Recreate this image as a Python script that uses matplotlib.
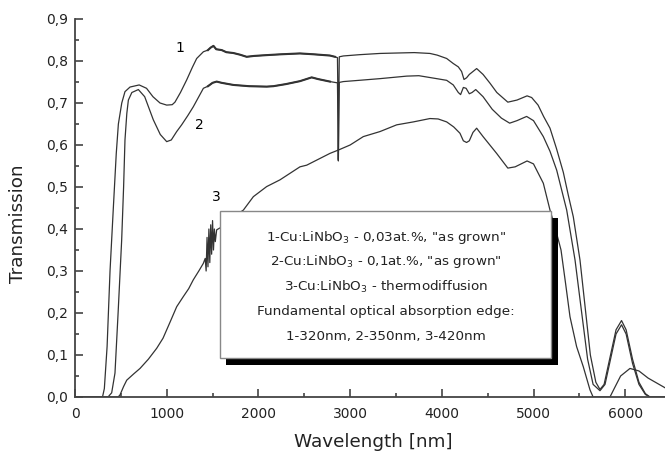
import numpy as np
import matplotlib
matplotlib.use('Agg')
import matplotlib.pyplot as plt
from matplotlib.patches import Rectangle
from matplotlib.ticker import MultipleLocator, FuncFormatter

# curve 1 : Cu:LiNbO3 0,03at.% as grown
wl1 = [0, 300, 320, 350, 382, 418, 450, 473, 510, 545, 600, 700, 780, 850, 927, 1000,
       1060, 1090, 1150, 1218, 1280, 1327, 1400, 1450, 1480, 1510, 1540, 1600, 1650,
       1727, 1800, 1872, 1950, 2090, 2250, 2453, 2600, 2780, 2835, 2862, 2868, 2872,
       2876, 2882, 2926, 3100, 3326, 3508, 3700, 3871, 3950, 4053, 4125, 4180, 4216,
       4242, 4270, 4300, 4380, 4450, 4526, 4600, 4720, 4820, 4930, 4980, 5050, 5110,
       5180, 5250, 5325, 5380, 5434, 5507, 5560, 5620, 5680, 5725, 5770, 5830, 5900,
       5960, 6010, 6080, 6150, 6220, 6270, 6434]
t1 = [0, 0, 0.02, 0.12, 0.30, 0.45, 0.58, 0.65, 0.70, 0.727, 0.738, 0.743, 0.735, 0.715,
      0.700, 0.695, 0.696, 0.702, 0.725, 0.755, 0.785, 0.806, 0.822, 0.826, 0.832, 0.836,
      0.828, 0.826, 0.821, 0.819, 0.815, 0.810, 0.812, 0.814, 0.816, 0.818, 0.816, 0.813,
      0.810, 0.808, 0.70, 0.565, 0.70, 0.81, 0.812, 0.815, 0.818, 0.819, 0.820, 0.818,
      0.814, 0.806, 0.794, 0.786, 0.775, 0.756, 0.760, 0.768, 0.782, 0.768, 0.747, 0.725,
      0.702, 0.707, 0.717, 0.713, 0.695, 0.668, 0.640, 0.592, 0.535, 0.48, 0.429, 0.326,
      0.22, 0.10, 0.035, 0.018, 0.03, 0.09, 0.16, 0.182, 0.16, 0.09, 0.035, 0.008, 0, 0]

# curve 2 : Cu:LiNbO3 0,1at.% as grown
wl2 = [0, 360, 400, 436, 470, 509, 530, 545, 565, 582, 620, 691, 760, 854, 930, 1000,
       1050, 1109, 1163, 1230, 1290, 1350, 1400, 1450, 1500, 1545, 1600, 1727, 1900,
       2090, 2163, 2300, 2453, 2581, 2650, 2780, 2862, 2868, 2872, 2876, 2882, 2926,
       3100, 3326, 3617, 3750, 3944, 4053, 4125, 4180, 4205, 4235, 4265, 4300, 4330,
       4370, 4450, 4550, 4650, 4740, 4820, 4925, 5000, 5107, 5180, 5253, 5362, 5453,
       5520, 5590, 5650, 5725, 5780, 5840, 5900, 5960, 6010, 6080, 6150, 6220, 6270, 6434]
t2 = [0, 0, 0.01, 0.057, 0.20, 0.374, 0.50, 0.612, 0.675, 0.707, 0.725, 0.732, 0.715,
      0.660, 0.625, 0.608, 0.612, 0.632, 0.648, 0.670, 0.691, 0.715, 0.735, 0.740, 0.748,
      0.751, 0.748, 0.743, 0.740, 0.739, 0.740, 0.745, 0.752, 0.761, 0.757, 0.751, 0.748,
      0.65, 0.562, 0.65, 0.749, 0.751, 0.754, 0.758, 0.764, 0.765, 0.758, 0.754, 0.743,
      0.725, 0.720, 0.737, 0.735, 0.722, 0.725, 0.732, 0.715, 0.685, 0.664, 0.652, 0.658,
      0.668, 0.658, 0.620, 0.585, 0.540, 0.445, 0.326, 0.21, 0.09, 0.03, 0.015, 0.03,
      0.09, 0.15, 0.172, 0.15, 0.08, 0.03, 0.006, 0, 0]

# curve 3 : Cu:LiNbO3 thermodiffusion
wl3 = [0, 470, 491, 530, 564, 640, 709, 800, 891, 960, 1036, 1109, 1181, 1240, 1290,
       1350, 1399, 1420, 1430, 1440, 1450, 1460, 1470, 1480, 1490, 1500, 1510, 1520,
       1530, 1545, 1600, 1700, 1836, 1945, 2090, 2235, 2453, 2527, 2780, 2872, 3000,
       3144, 3326, 3508, 3690, 3871, 3960, 4053, 4130, 4198, 4235, 4270, 4300, 4340,
       4380, 4450, 4598, 4720, 4800, 4930, 5000, 5107, 5180, 5240, 5300, 5350, 5398,
       5470, 5543, 5616, 5650, 5834, 5880, 5950, 6052, 6150, 6250, 6434]
t3 = [0, 0, 0.005, 0.025, 0.04, 0.055, 0.068, 0.09, 0.116, 0.14, 0.178, 0.215, 0.239,
      0.258, 0.279, 0.30, 0.318, 0.33, 0.30, 0.38, 0.31, 0.40, 0.32, 0.41, 0.34, 0.42,
      0.35, 0.40, 0.37, 0.398, 0.405, 0.425, 0.445, 0.477, 0.501, 0.517, 0.548, 0.552,
      0.580, 0.588, 0.600, 0.620, 0.632, 0.648, 0.655, 0.663, 0.662, 0.655, 0.643, 0.628,
      0.610, 0.606, 0.610, 0.630, 0.640, 0.620, 0.580, 0.545, 0.548, 0.562, 0.555, 0.509,
      0.445, 0.40, 0.35, 0.27, 0.191, 0.12, 0.072, 0.017, 0, 0, 0.02, 0.05, 0.068, 0.062,
      0.045, 0.022]

legend_lines = [
    '1-Cu:LiNbO$_3$ - 0,03at.%, "as grown"',
    '2-Cu:LiNbO$_3$ - 0,1at.%, "as grown"',
    '3-Cu:LiNbO$_3$ - thermodiffusion',
    'Fundamental optical absorption edge:',
    '1-320nm, 2-350nm, 3-420nm',
]

plt.rcParams['mathtext.default'] = 'regular'
W, H = 665, 455
fig = plt.figure(figsize=(W / 100, H / 100), dpi=100)
ax = fig.add_axes([75 / W, 58 / H, 590 / W, 378 / H])

lc = '#333333'
for wl, t in [(wl1, t1), (wl2, t2), (wl3, t3)]:
    ax.plot(wl, t, color=lc, lw=0.9)
# noisy part of the spectra drawn a bit heavier
for wl, t in [(wl1, t1), (wl2, t2)]:
    wl = np.array(wl)
    m = (wl >= 1450) & (wl <= 2860)
    ax.plot(wl[m], np.array(t)[m], color=lc, lw=1.5)

ax.text(1145, 0.831, '1', fontsize=10, ha='center', va='center')
ax.text(1352, 0.648, '2', fontsize=10, ha='center', va='center')
ax.text(1538, 0.477, '3', fontsize=10, ha='center', va='center')

ax.set_xlim(0, 6434)
ax.set_ylim(0, 0.9)
ax.xaxis.set_major_locator(MultipleLocator(1000))
ax.xaxis.set_minor_locator(MultipleLocator(500))
ax.yaxis.set_major_locator(MultipleLocator(0.1))
ax.yaxis.set_minor_locator(MultipleLocator(0.05))
ax.yaxis.set_major_formatter(FuncFormatter(lambda v, p: ('%.1f' % v).replace('.', ',')))
ax.xaxis.set_major_formatter(FuncFormatter(lambda v, p: '%d' % v))

for s in ['top', 'right']:
    ax.spines[s].set_visible(False)
for s in ['left', 'bottom']:
    ax.spines[s].set_color('#444444')
    ax.spines[s].set_linewidth(1.3)
ax.tick_params(which='both', direction='in', color='#444444', width=1.2,
               labelsize=10, labelcolor='#222222')
ax.tick_params(which='major', length=6)
ax.tick_params(which='minor', length=3)
ax.tick_params(axis='y', pad=5)
ax.tick_params(axis='x', pad=7)

ax.set_xlabel('Wavelength [nm]', fontsize=13.2, color='#222222')
ax.set_ylabel('Transmission', fontsize=13.2, color='#222222')
ax.xaxis.set_label_coords(0.505, -0.095)
ax.yaxis.set_label_coords(-0.082, 0.458)

# legend box with black shadow
def fr(px, py):
    return px / W, 1 - py / H

x0, y0 = fr(226, 365)
x1, y1 = fr(558, 218)
fig.add_artist(Rectangle((x0, y0), x1 - x0, y1 - y0, transform=fig.transFigure,
                         facecolor='black', edgecolor='none', zorder=5))
x0, y0 = fr(220, 358)
x1, y1 = fr(551, 211)
fig.add_artist(Rectangle((x0, y0), x1 - x0, y1 - y0, transform=fig.transFigure,
                         facecolor='white', edgecolor='#888888', lw=1, zorder=6))
for i, s in enumerate(legend_lines):
    tx, ty = fr(386, 237 + i * 24.8)
    fig.text(tx, ty, s, fontsize=9.7, ha='center', va='center', color='#222222', zorder=7)

fig.savefig('out.png', dpi=100)
